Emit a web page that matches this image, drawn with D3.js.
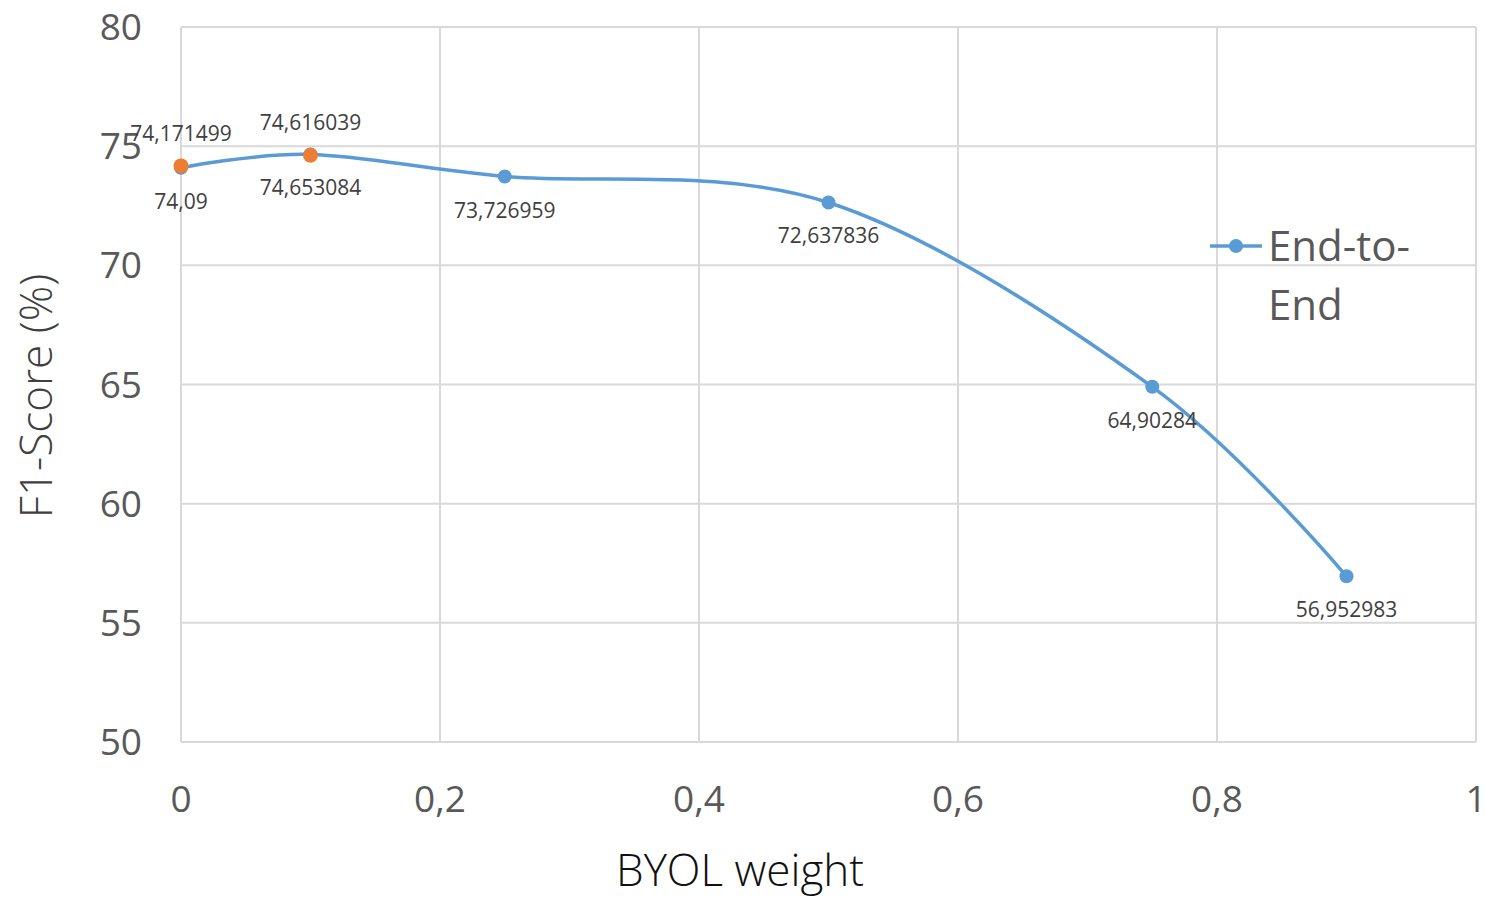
<!DOCTYPE html>
<html>
<head>
<meta charset="utf-8">
<script src="https://cdn.jsdelivr.net/npm/d3@7"></script>
<style>
  body { margin: 0; background: #fff; }
  text { font-family: "Open Sans", "Noto Sans", sans-serif; }
</style>
</head>
<body>
<svg width="1486" height="898"></svg>
<script>
// data
var byolWeight = [0, 0.1, 0.25, 0.5, 0.75, 0.9];
var endToEnd = [74.09, 74.653084, 73.726959, 72.637836, 64.90284, 56.952983];
var otherWeight = [0, 0.1];
var otherScore = [74.171499, 74.616039];
var xTicks = [0, 0.2, 0.4, 0.6, 0.8, 1];
var yTicks = [50, 55, 60, 65, 70, 75, 80];

var svg = d3.select("svg");
var plotLeft = 181, plotRight = 1476, plotTop = 27, plotBottom = 742;

var x = d3.scaleLinear().domain([0, 1]).range([plotLeft, plotRight]);
var y = d3.scaleLinear().domain([50, 80]).range([plotBottom, plotTop]);

var fmt = function(v) { return String(v).replace(".", ","); };

// gridlines
var grid = svg.append("g").attr("stroke", "#d9d9d9").attr("stroke-width", 2);
grid.selectAll(".h").data(yTicks).enter().append("line")
    .attr("x1", plotLeft).attr("x2", plotRight)
    .attr("y1", d => y(d)).attr("y2", d => y(d));
grid.selectAll(".v").data(xTicks).enter().append("line")
    .attr("x1", d => x(d)).attr("x2", d => x(d))
    .attr("y1", plotTop).attr("y2", plotBottom);

// tick labels
svg.append("g").selectAll("text").data(yTicks).enter().append("text")
    .attr("x", 142).attr("y", d => y(d) + 13)
    .attr("text-anchor", "end")
    .attr("font-size", 37).attr("fill", "#595959")
    .text(d => d);
svg.append("g").selectAll("text").data(xTicks).enter().append("text")
    .attr("x", d => x(d)).attr("y", 812)
    .attr("text-anchor", "middle")
    .attr("font-size", 37).attr("fill", "#595959")
    .text(d => fmt(d));

// axis titles
svg.append("text")
    .attr("transform", "translate(52,396) rotate(-90)")
    .attr("text-anchor", "middle")
    .attr("font-size", 44).attr("font-weight", 300).attr("fill", "#404040")
    .text("F1-Score (%)");
svg.append("text")
    .attr("x", 740).attr("y", 886)
    .attr("text-anchor", "middle")
    .attr("font-size", 44).attr("font-weight", 300).attr("fill", "#111")
    .text("BYOL weight");

// blue series, smoothed like Excel
var pts = byolWeight.map((w, i) => [w, endToEnd[i]]);
var line = d3.line()
    .x(d => x(d[0])).y(d => y(d[1]))
    .curve(d3.curveCatmullRom.alpha(0));
svg.append("path").datum(pts)
    .attr("d", line)
    .attr("fill", "none").attr("stroke", "#5b9bd5").attr("stroke-width", 3.5);
svg.append("g").selectAll("circle").data(pts).enter().append("circle")
    .attr("cx", d => x(d[0])).attr("cy", d => y(d[1])).attr("r", 7)
    .attr("fill", "#5b9bd5");
svg.append("g").selectAll("text").data(pts).enter().append("text")
    .attr("x", d => x(d[0])).attr("y", d => y(d[1]) + 41)
    .attr("text-anchor", "middle")
    .attr("font-size", 21).attr("fill", "#404040")
    .text(d => fmt(d[1]));

// orange points (second series)
var opts = otherWeight.map((w, i) => [w, otherScore[i]]);
svg.append("g").selectAll("circle").data(opts).enter().append("circle")
    .attr("cx", d => x(d[0])).attr("cy", d => y(d[1])).attr("r", 7.5)
    .attr("fill", "#ed7d31");
svg.append("g").selectAll("text").data(opts).enter().append("text")
    .attr("x", d => x(d[0])).attr("y", d => y(d[1]) - 25)
    .attr("text-anchor", "middle")
    .attr("font-size", 21).attr("fill", "#404040")
    .text(d => fmt(d[1]));

// legend
var lg = svg.append("g").attr("transform", "translate(1210,246)");
lg.append("line").attr("x1", 0).attr("x2", 52).attr("y1", 0).attr("y2", 0)
    .attr("stroke", "#5b9bd5").attr("stroke-width", 3.5);
lg.append("circle").attr("cx", 26).attr("cy", 0).attr("r", 7).attr("fill", "#5b9bd5");
lg.append("text").attr("x", 58).attr("y", 15)
    .attr("font-size", 42).attr("fill", "#595959").text("End-to-");
lg.append("text").attr("x", 58).attr("y", 74)
    .attr("font-size", 42).attr("fill", "#595959").text("End");
</script>
</body>
</html>
